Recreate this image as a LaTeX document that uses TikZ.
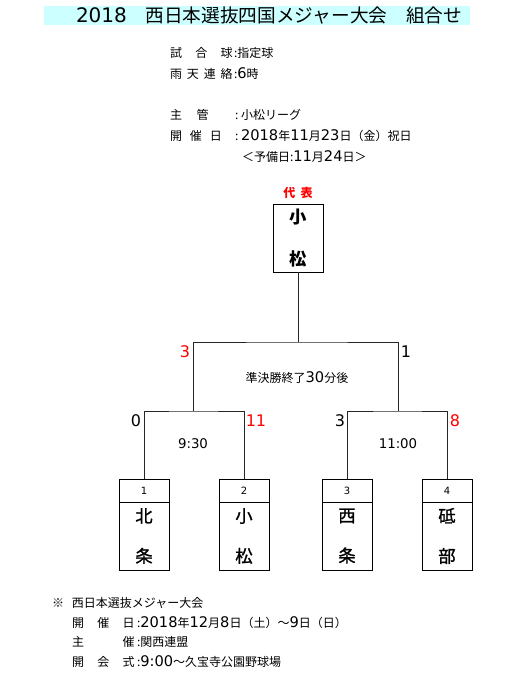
\documentclass[tikz,border=0pt]{standalone}
\usepackage{fontspec}
\setmainfont{Noto Sans CJK JP}
\newfontfamily\latinfont{DejaVu Sans}
\newfontfamily\infodigits[Scale=1.22]{DejaVu Sans}
\newfontfamily\namefont[FakeBold=1.2]{Noto Sans CJK JP}
\usetikzlibrary{positioning}
\definecolor{titlebg}{HTML}{CCFFFF}
\definecolor{winred}{HTML}{FF0000}
\newcommand{\spread}[2]{\makebox[#1][s]{#2}}
\newcommand{\dg}[1]{{\infodigits #1}}

\begin{document}
\begin{tikzpicture}[x=0.75pt, y=-0.75pt,
    every node/.style={inner sep=0pt, outer sep=0pt},
    info/.style={anchor=west, font=\fontsize{9}{11}\selectfont},
    scoretxt/.style={font=\fontsize{12}{14}\selectfont\latinfont},
    winscore/.style={scoretxt, text=winred},
    timetxt/.style={font=\fontsize{10}{12}\selectfont\latinfont},
    bracket/.style={line width=0.75pt, draw=black!85},
    numbox/.style={draw, line width=0.75pt, minimum width=37.5pt, minimum height=17.25pt,
      font=\fontsize{7.5}{10}\selectfont\latinfont},
    namebox/.style={draw, line width=0.75pt, minimum width=37.5pt, minimum height=51pt,
      align=center, font=\fontsize{13}{30}\selectfont\namefont}]
  \useasboundingbox (0,0) rectangle (525,679);

  % title
  \fill[titlebg] (44,6) rectangle (470,25);
  \node[font=\fontsize{14}{16}\selectfont] (title) at (269,15.5) {{\latinfont\fontsize{15}{16}\selectfont 2018}　西日本選抜四国メジャー大会　組合せ};

  % game info
  \node[info] (ball) at (170,53) {\spread{47pt}{試\hfill 合\hfill 球}};
  \node[info] (ballv) at (234,53) {:指定球};
  \node[info] (rain) at (170,74) {\spread{47pt}{雨\hfill 天\hfill 連\hfill 絡}};
  \node[info] (rainv) at (234,74) {:\dg{6}時};
  \node[info] (host) at (170,115) {\spread{29pt}{主\hfill 管}};
  \node[info] (hostv) at (235,115) {:\ 小松リーグ};
  \node[info] (date) at (170,136) {\spread{39pt}{開\hfill 催\hfill 日}};
  \node[info] (datev) at (235,136) {:\ \dg{2018}年\dg{11}月\dg{23}日（金）祝日};
  \node[info] (spare) at (242,157) {＜予備日:\dg{11}月\dg{24}日＞};

  % final
  \node[red, font=\fontsize{9}{11}\selectfont\bfseries] (rep) at (298,193) {代\hspace{4pt}表};
  \node[namebox, font=\fontsize{13}{32}\selectfont\bfseries] (champ) at (298,238) {小\\松};

  % teams
  \node[numbox] (n1) at (144,490.5) {1};
  \node[numbox] (n2) at (244,490.5) {2};
  \node[numbox] (n3) at (347,490.5) {3};
  \node[numbox] (n4) at (447,490.5) {4};
  \node[namebox, below=0pt of n1] (t1) {北\\条};
  \node[namebox, below=0pt of n2] (t2) {小\\松};
  \node[namebox, below=0pt of n3] (t3) {西\\条};
  \node[namebox, below=0pt of n4] (t4) {砥\\部};

  % bracket
  \coordinate (sf1) at (193,411);
  \coordinate (sf2) at (398,411);
  \coordinate (fin) at (298,342);
  \draw[bracket] (n1.north) |- (sf1) -| (n2.north);
  \draw[bracket] (n3.north) |- (sf2) -| (n4.north);
  \draw[bracket] (sf1) |- (fin) -| (sf2);
  \draw[bracket] (fin) -- (champ.south);

  % scores and times
  \node[scoretxt] (s1) at (136,421) {0};
  \node[winscore] (s2) at (256,421) {11};
  \node[scoretxt] (s3) at (340,421) {3};
  \node[winscore] (s4) at (455,421) {8};
  \node[winscore] (s5) at (185,352) {3};
  \node[scoretxt] (s6) at (406,352) {1};
  \node[timetxt] (time1) at (193,444) {9:30};
  \node[timetxt] (time2) at (398,444) {11:00};
  \node[font=\fontsize{9}{11}\selectfont] (time3) at (297,378) {準決勝終了\dg{30}分後};

  % note
  \node[info] (note) at (52,603) {※\hspace{6pt}西日本選抜メジャー大会};
  \node[info] (ndate) at (72,623) {\spread{47pt}{開\hfill 催\hfill 日}};
  \node[info] (ndatev) at (137,623) {:\dg{2018}年\dg{12}月\dg{8}日（土）～\dg{9}日（日）};
  \node[info] (nhost) at (72,642) {\spread{47pt}{主\hfill 催}};
  \node[info] (nhostv) at (137,642) {:関西連盟};
  \node[info] (nopen) at (72,662) {\spread{47pt}{開\hfill 会\hfill 式}};
  \node[info] (nopenv) at (137,662) {:\dg{9:00}～久宝寺公園野球場};
\end{tikzpicture}
\end{document}
